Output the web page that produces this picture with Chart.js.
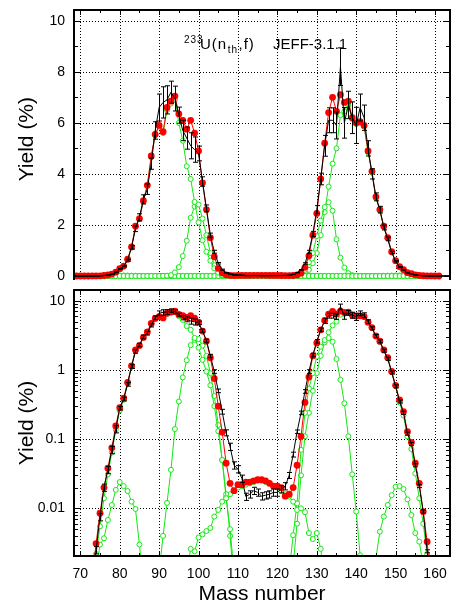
<!DOCTYPE html>
<html><head><meta charset="utf-8">
<script src="https://cdn.jsdelivr.net/npm/chart.js@4.4.0/dist/chart.umd.min.js"></script>
<style>
html,body{margin:0;padding:0;background:#fff;}
#wrap{position:relative;width:452px;height:607px;overflow:hidden;}
canvas{position:absolute;left:0;}
</style></head><body>
<div id="wrap">
<canvas id="cTop" width="452" height="289" style="top:0px"></canvas>
<canvas id="cBot" width="452" height="318" style="top:289px"></canvas>
</div>
<script>
// ---------------- data ----------------
const xTickMasses = [70, 80, 90, 100, 110, 120, 130, 140, 150, 160];
const linTicks = [0, 2, 4, 6, 8, 10];
const logTicks = [0.01, 0.1, 1, 10];

// JEFF-3.1.1 evaluated yields (red), mass 68..161
const evalFrom = 68;
const evalYield = [
  0, 0, 0.00001, 0.00004, 0.0002, 0.0009, 0.0031, 0.0085, 0.020, 0.038,
  0.075, 0.155, 0.285, 0.39, 0.66, 1.14, 1.95, 2.25, 2.95, 3.55,
  4.7, 5.55, 5.9, 5.65, 6.6, 6.85, 7.05, 6.35, 6.1, 5.75,
  6.1, 5.6, 4.9, 3.65, 2.6, 1.5, 0.75, 0.3, 0.126, 0.045,
  0.023, 0.018, 0.022, 0.022, 0.024, 0.024, 0.025, 0.026, 0.026, 0.025,
  0.023, 0.021, 0.021, 0.02, 0.015, 0.016, 0.02, 0.042, 0.11, 0.34,
  0.79, 1.6, 2.45, 3.8, 5.2, 6.4, 7.0, 6.45, 7.1, 6.8,
  6.85, 6.2, 6.0, 6.05, 5.9, 4.9, 4.1, 3.1, 2.6, 1.95,
  1.5, 0.95, 0.6, 0.37, 0.25, 0.128, 0.09, 0.045, 0.023, 0.009,
  0.0033, 0.0008, 0.0002, 0.00005
];

// experimental yields (black, with error bars), mass 66..165
const expFrom = 66;
const expYield = [
  0, 0, 0, 0, 0.00001, 0.00005, 0.0002, 0.0007, 0.0025, 0.0075,
  0.02, 0.036, 0.07, 0.14, 0.28, 0.38, 0.62, 1.12, 1.85, 2.3,
  3.0, 3.4, 4.4, 5.7, 6.6, 6.8, 6.9, 7.2, 6.95, 6.3,
  5.7, 5.4, 5.1, 4.95, 4.8, 3.7, 2.65, 1.6, 0.95, 0.5,
  0.25, 0.124, 0.078, 0.042, 0.037, 0.027, 0.0148, 0.016, 0.018, 0.017,
  0.015, 0.0155, 0.016, 0.017, 0.017, 0.019, 0.021, 0.03, 0.06, 0.128,
  0.24, 0.49, 0.95, 1.65, 2.6, 3.8, 5.1, 6.1, 6.1, 5.9,
  8.2, 6.0, 6.7, 6.2, 5.9, 6.6, 6.2, 5.0, 4.0, 3.1,
  2.6, 1.9, 1.45, 0.92, 0.58, 0.35, 0.24, 0.12, 0.085, 0.042,
  0.021, 0.009, 0.0024, 0.0006, 0.0001, 0.00002, 0, 0, 0, 0
];
// relative uncertainty of the experimental yields (%), mass 66..165
const expErrPct = [
  12, 12, 12, 12, 12, 12, 12, 12, 12, 12,
  12, 12, 12, 12, 6, 6, 6, 6, 6, 6,
  6, 6, 5, 6, 8, 9, 8, 6, 7, 5,
  7, 8, 10, 10, 6, 5, 5, 5, 6, 6,
  8, 10, 12, 12, 12, 12, 12, 12, 12, 12,
  12, 12, 12, 12, 12, 12, 12, 10, 8, 6,
  6, 6, 6, 6, 6, 6, 8, 8, 8, 9,
  9, 10, 8, 10, 12, 8, 8, 6, 5, 5,
  5, 5, 5, 5, 5, 5, 5, 5, 5, 5,
  5, 5, 5, 8, 8, 8, 8, 8, 8, 8
];

// fission-mode components (green)
const greenLo = 68, greenHi = 158;
const s2LightFrom = 73;
const s2LightYield = [
  0.0006, 0.0022, 0.0055, 0.014, 0.031, 0.064, 0.137, 0.26, 0.37, 0.64,
  1.12, 1.93, 2.23, 2.93, 3.53, 4.65, 5.5, 5.85, 5.6, 6.5,
  6.75, 6.9, 6.0, 5.3, 4.3, 3.8, 2.9, 2.1, 1.4, 0.95,
  0.6, 0.3, 0.13, 0.05, 0.014, 0.005, 0.0012, 0.0003
];
const s1LightFrom = 89;
const s1LightYield = [
  0.0004, 0.0012, 0.004, 0.012, 0.036, 0.14, 0.35, 0.78, 1.38, 2.28,
  2.72, 2.8, 2.25, 1.6, 0.9, 0.42, 0.16, 0.05, 0.016, 0.004, 0.0008
];
const s3LightFrom = 73;
const s3LightYield = [
  0.0004, 0.0012, 0.003, 0.0037, 0.0068, 0.0112, 0.0185, 0.024, 0.021, 0.0178,
  0.0125, 0.0098, 0.003, 0.0008
];
const superLongFrom = 97;
const superLongYield = [
  0.0012, 0.0026, 0.0024, 0.0038, 0.0042, 0.0047, 0.0052, 0.0076, 0.0095, 0.0125,
  0.0145, 0.016, 0.018, 0.02, 0.021, 0.022, 0.023, 0.024, 0.025, 0.025,
  0.024, 0.023, 0.021, 0.02, 0.018, 0.016, 0.0148, 0.0125, 0.0095, 0.01,
  0.0088, 0.0044, 0.0036, 0.0044, 0.0026, 0.0009
];
const s1HeavyFrom = 122;
const s1HeavyYield = [
  0.0004, 0.0012, 0.0041, 0.0118, 0.07, 0.24, 0.54, 0.9, 1.56, 2.17,
  2.7, 2.89, 2.56, 1.44, 0.72, 0.33, 0.11, 0.031, 0.009, 0.0021, 0.0005
];
const s2HeavyFrom = 123;
const s2HeavyYield = [
  0.0004, 0.0015, 0.006, 0.03, 0.11, 0.24, 0.5, 0.9, 1.6, 2.5,
  3.5, 4.4, 5.0, 6.3, 6.45, 6.7, 6.15, 5.95, 6.0, 5.85,
  4.85, 4.05, 3.05, 2.55, 1.92, 1.48, 0.93, 0.58, 0.34, 0.22,
  0.11, 0.072, 0.032, 0.014, 0.006, 0.0022, 0.0008
];
const s3HeavyFrom = 144;
const s3HeavyYield = [
  0.0008, 0.0019, 0.0046, 0.0076, 0.0112, 0.0155, 0.0205, 0.021, 0.019, 0.0135,
  0.008, 0.0044, 0.0033, 0.0015, 0.0005
];

// ---------------- helpers ----------------
const FONT = "'Liberation Sans', Arial, sans-serif";
const GREEN = 'rgb(20,232,20)';
const RED = '#ff0000';

function seriesPoints(from, values, lo, hi, logMode) {
  const pts = [];
  if (logMode) {
    values.forEach((v, i) => pts.push({x: from + i, y: v > 0 ? v : null}));
  } else {
    for (let m = lo; m <= hi; m++) {
      const i = m - from;
      pts.push({x: m, y: (i >= 0 && i < values.length) ? values[i] : 0});
    }
  }
  return pts;
}

function buildDatasets(logMode) {
  const greens = [
    [s2LightFrom, s2LightYield], [s1LightFrom, s1LightYield], [s3LightFrom, s3LightYield],
    [superLongFrom, superLongYield], [s1HeavyFrom, s1HeavyYield], [s2HeavyFrom, s2HeavyYield],
    [s3HeavyFrom, s3HeavyYield]
  ];
  const ds = [];
  ds.push({
    data: seriesPoints(expFrom, expYield, expFrom, expFrom + expYield.length - 1, logMode),
    borderColor: '#000', borderWidth: 1, pointRadius: 0, order: 1
  });
  ds.push({
    data: seriesPoints(evalFrom, evalYield, evalFrom, evalFrom + evalYield.length - 1, logMode),
    borderColor: RED, borderWidth: 1, pointRadius: 3.4, pointBorderWidth: 0,
    pointBackgroundColor: RED, order: 2
  });
  greens.forEach(([f, v]) => ds.push({
    data: seriesPoints(f, v, greenLo, greenHi, logMode),
    borderColor: GREEN, borderWidth: 1, pointRadius: 2.5, pointBorderWidth: 1,
    pointBorderColor: GREEN, pointBackgroundColor: '#fff', order: 3
  }));
  return ds;
}

function framePlugin(cfg) {
  return {
    id: 'frame_' + cfg.name,
    beforeDatasetsDraw(chart) {
      const {ctx, chartArea: a, scales: {x, y}} = chart;
      ctx.save();
      if (cfg.title) cfg.title(ctx);
      ctx.restore();
      ctx.save();
      ctx.strokeStyle = '#000';
      ctx.lineWidth = 1;
      ctx.setLineDash([1, 2]);
      ctx.beginPath();
      xTickMasses.forEach(m => {
        const px = Math.round(x.getPixelForValue(m)) + 0.5;
        ctx.moveTo(px, a.top); ctx.lineTo(px, a.bottom);
      });
      cfg.yGrid.forEach(v => {
        const py = Math.round(y.getPixelForValue(v)) + 0.5;
        ctx.moveTo(a.left, py); ctx.lineTo(a.right, py);
      });
      ctx.stroke();
      ctx.restore();
    },
    afterDatasetsDraw(chart) {
      const {ctx, chartArea: a, scales: {x, y}} = chart;
      ctx.save();
      // error bars
      ctx.beginPath();
      ctx.rect(a.left, a.top, a.right - a.left, a.bottom - a.top);
      ctx.clip();
      ctx.strokeStyle = '#000';
      ctx.lineWidth = 1;
      ctx.beginPath();
      expYield.forEach((v, i) => {
        if (cfg.log && v <= 0) return;
        const m = expFrom + i;
        const e = v * expErrPct[i] / 100;
        const px = Math.round(x.getPixelForValue(m)) + 0.5;
        const y1 = y.getPixelForValue(v + e);
        const y2 = y.getPixelForValue(cfg.log ? Math.max(v - e, 1e-9) : v - e);
        ctx.moveTo(px, y1); ctx.lineTo(px, y2);
        ctx.moveTo(px - 2.5, y1); ctx.lineTo(px + 2.5, y1);
        ctx.moveTo(px - 2.5, y2); ctx.lineTo(px + 2.5, y2);
      });
      ctx.stroke();
      ctx.restore();

      // frame
      ctx.save();
      ctx.strokeStyle = '#000';
      ctx.lineWidth = 2;
      ctx.beginPath();
      if (cfg.log) {
        ctx.rect(a.left, a.top, a.right - a.left, a.bottom - a.top);
      } else {
        ctx.moveTo(a.left, a.bottom); ctx.lineTo(a.left, a.top);
        ctx.lineTo(a.right, a.top); ctx.lineTo(a.right, a.bottom);
      }
      ctx.stroke();
      // ticks
      ctx.lineWidth = 1;
      ctx.beginPath();
      for (let m = 70; m <= 160; m += 5) {
        const px = Math.round(x.getPixelForValue(m)) + 0.5;
        const len = (m % 10 === 0) ? 5 : 3;
        ctx.moveTo(px, a.top); ctx.lineTo(px, a.top + len);
        if (cfg.log) { ctx.moveTo(px, a.bottom); ctx.lineTo(px, a.bottom - len); }
      }
      cfg.yMinor.forEach(([v, len]) => {
        const py = Math.round(y.getPixelForValue(v)) + 0.5;
        ctx.moveTo(a.left, py); ctx.lineTo(a.left + len, py);
        ctx.moveTo(a.right, py); ctx.lineTo(a.right - len, py);
      });
      ctx.stroke();
      ctx.restore();
    }
  };
}

Chart.defaults.font.family = FONT;
Chart.defaults.color = '#000';

const tickFont = {family: FONT, size: 14};
const axisTitleFont = {family: FONT, size: 21};
const noPad = s => { s.paddingTop = 0; s.paddingBottom = 0; s.paddingLeft = 0; s.paddingRight = 0; };

// ---------------- top (linear) panel ----------------
const linMinor = [];
for (let v = 0; v <= 10; v += 1) linMinor.push([v, v % 2 === 0 ? 6 : 4]);

new Chart(document.getElementById('cTop'), {
  type: 'line',
  data: {datasets: buildDatasets(false)},
  options: {
    responsive: false, animation: false, devicePixelRatio: 1, events: [],
    layout: {autoPadding: false, padding: {top: 10, right: 2, bottom: 9, left: 0}},
    plugins: {legend: {display: false}, tooltip: {enabled: false}},
    scales: {
      x: {type: 'linear', min: 68.4, max: 163.8, display: false},
      y: {
        type: 'linear', min: -0.157, max: 10.42,
        afterBuildTicks: s => { s.ticks = linTicks.map(v => ({value: v})); },
        afterFit: s => { s.width = 74; noPad(s); },
        ticks: {font: tickFont, color: '#000', padding: 9, callback: v => String(v)},
        grid: {display: false, drawTicks: false}, border: {display: false},
        title: {display: true, text: '  Yield (%)', font: axisTitleFont, color: '#000', padding: {top: 15, bottom: 0}}
      }
    }
  },
  plugins: [framePlugin({
    name: 'top', log: false, yGrid: [2, 4, 6, 8, 10], yMinor: linMinor,
    title: ctx => {
      ctx.fillStyle = '#000';
      ctx.textBaseline = 'alphabetic';
      ctx.textAlign = 'left';
      ctx.letterSpacing = '1px';
      let xx = 200;
      ctx.font = '10px ' + FONT;
      ctx.fillText('233', 184, 42.5);
      ctx.font = '15px ' + FONT;
      ctx.fillText('U(n', xx, 48.5);
      xx += ctx.measureText('U(n').width + 0.5;
      ctx.font = '10px ' + FONT;
      ctx.fillText('th', xx, 52.5);
      xx += ctx.measureText('th').width + 0.5;
      ctx.font = '15px ' + FONT;
      ctx.fillText(',f)', xx, 48.5);
      ctx.letterSpacing = '0px';
      ctx.fillText('JEFF-3.1.1', 273, 48.5);
    }
  })]
});

// ---------------- bottom (log) panel ----------------
const logMinor = [];
[0.001, 0.01, 0.1, 1, 10].forEach(d => {
  for (let k = 1; k <= 9; k++) logMinor.push([d * k, k === 1 ? 7 : 4]);
});

new Chart(document.getElementById('cBot'), {
  type: 'line',
  data: {datasets: buildDatasets(true)},
  options: {
    responsive: false, animation: false, devicePixelRatio: 1, events: [],
    layout: {autoPadding: false, padding: {top: 1, right: 2, bottom: 0, left: 0}},
    plugins: {legend: {display: false}, tooltip: {enabled: false}},
    scales: {
      x: {
        type: 'linear', min: 68.4, max: 163.8,
        afterBuildTicks: s => { s.ticks = xTickMasses.map(v => ({value: v})); },
        afterFit: s => { s.height = 51; noPad(s); },
        ticks: {font: tickFont, color: '#000', padding: 10, maxRotation: 0, autoSkip: false, callback: v => String(v)},
        grid: {display: false, drawTicks: false}, border: {display: false},
        title: {display: true, text: 'Mass number', font: axisTitleFont, color: '#000', padding: {top: 0, bottom: 0}}
      },
      y: {
        type: 'logarithmic', min: 0.00205, max: 14.3,
        afterBuildTicks: s => { s.ticks = logTicks.map(v => ({value: v})); },
        afterFit: s => { s.width = 74; noPad(s); },
        ticks: {font: tickFont, color: '#000', padding: 9, callback: v => String(v)},
        grid: {display: false, drawTicks: false}, border: {display: false},
        title: {display: true, text: 'Yield (%)', font: axisTitleFont, color: '#000', padding: {top: 15, bottom: 0}}
      }
    }
  },
  plugins: [framePlugin({name: 'bot', log: true, yGrid: logTicks, yMinor: logMinor.filter(p => p[0] > 0.00205 && p[0] < 14.3)})]
});
</script>
</body></html>
